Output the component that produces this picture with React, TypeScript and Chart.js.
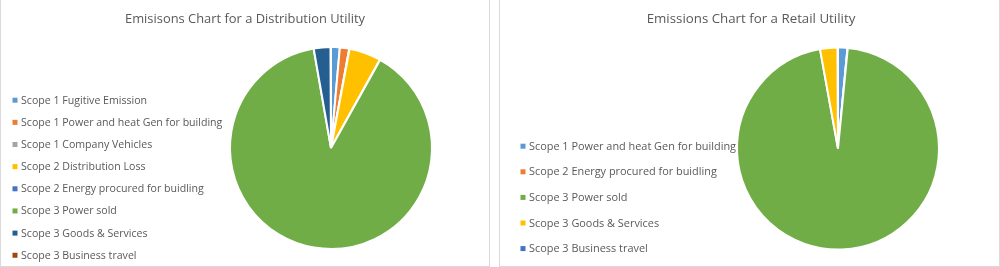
import React, { useEffect, useRef } from "react";
import { Chart, registerables } from "chart.js";

Chart.register(...registerables);

// ---------- Data ----------
const distTitle = "Emisisons Chart for a Distribution Utility";
const distLabels = [
  "Scope 1 Fugitive Emission",
  "Scope 1 Power and heat Gen for building",
  "Scope 1 Company Vehicles",
  "Scope 2 Distribution Loss",
  "Scope 2 Energy procured for buidling",
  "Scope 3 Power sold",
  "Scope 3 Goods & Services",
  "Scope 3 Business travel",
];
const distValues = [1.4, 1.5, 0.05, 5.1, 0.05, 89.2, 2.7, 0.05];
const distColors = [
  "#5B9BD5",
  "#ED7D31",
  "#A5A5A5",
  "#FFC000",
  "#4472C4",
  "#70AD47",
  "#255E91",
  "#9E480E",
];

const retailTitle = "Emissions Chart for a Retail Utility";
const retailLabels = [
  "Scope 1 Power and heat Gen for building",
  "Scope 2 Energy procured for buidling",
  "Scope 3 Power sold",
  "Scope 3 Goods & Services",
  "Scope 3 Business travel",
];
const retailValues = [1.5, 0.05, 95.6, 2.8, 0.05];
const retailColors = ["#5B9BD5", "#ED7D31", "#70AD47", "#FFC000", "#4472C4"];

// ---------- Layout / style ----------
const TEXT_COLOR = "#595959";
const FONT_FAMILY = "'Open Sans', 'Noto Sans', sans-serif";

type PanelLayout = {
  left: number;
  width: number;
  height: number;
  padding: { left: number; right: number; top: number; bottom: number };
  titleX: number;
  titleY: number;
  titleSize: number;
  legendX: number;
  legendTextX: number;
  legendY0: number;
  legendStep: number;
  legendSize: number;
  markerSize: number;
};

const distLayout: PanelLayout = {
  left: 0,
  width: 490,
  height: 267,
  padding: { left: 228, right: 56, top: 45.5, bottom: 15.5 },
  titleX: 244,
  titleY: 19,
  titleSize: 12.9,
  legendX: 11.5,
  legendTextX: 20,
  legendY0: 100.2,
  legendStep: 22.15,
  legendSize: 10.6,
  markerSize: 5,
};

const retailLayout: PanelLayout = {
  left: 499,
  width: 501,
  height: 267,
  padding: { left: 236, right: 59, top: 46, bottom: 15 },
  titleX: 251,
  titleY: 19,
  titleSize: 13.3,
  legendX: 20.5,
  legendTextX: 29,
  legendY0: 146.2,
  legendStep: 25.6,
  legendSize: 10.9,
  markerSize: 5,
};

const textPlugin = {
  id: "panelText",
  afterDraw(chart: any, _args: any, opts: any) {
    const ctx: CanvasRenderingContext2D = chart.ctx;
    const L: PanelLayout = opts.layout;
    ctx.save();
    // title
    ctx.fillStyle = TEXT_COLOR;
    ctx.font = `${L.titleSize}px ${FONT_FAMILY}`;
    ctx.textAlign = "center";
    ctx.textBaseline = "middle";
    ctx.fillText(opts.title, L.titleX, L.titleY);
    // legend
    const labels: string[] = chart.data.labels;
    const colors: string[] = chart.data.datasets[0].backgroundColor;
    ctx.font = `${L.legendSize}px ${FONT_FAMILY}`;
    ctx.textAlign = "left";
    labels.forEach((lab, i) => {
      const y = L.legendY0 + i * L.legendStep;
      ctx.fillStyle = colors[i];
      ctx.fillRect(L.legendX, y - L.markerSize / 2, L.markerSize, L.markerSize);
      ctx.fillStyle = TEXT_COLOR;
      ctx.fillText(lab, L.legendTextX, y + 0.5);
    });
    ctx.restore();
  },
};

function PiePanel(props: {
  title: string;
  labels: string[];
  values: number[];
  colors: string[];
  layout: PanelLayout;
}) {
  const ref = useRef<HTMLCanvasElement | null>(null);
  const { title, labels, values, colors, layout } = props;

  useEffect(() => {
    if (!ref.current) return;
    const chart = new Chart(ref.current, {
      type: "pie",
      data: {
        labels,
        datasets: [
          {
            data: values,
            backgroundColor: colors,
            borderColor: "#ffffff",
            borderWidth: 2,
          },
        ],
      },
      options: {
        animation: false,
        responsive: false,
        maintainAspectRatio: false,
        layout: { padding: layout.padding },
        plugins: {
          legend: { display: false },
          title: { display: false },
          tooltip: { enabled: false },
          panelText: { title, layout },
        } as any,
      },
      plugins: [textPlugin as any],
    });
    return () => chart.destroy();
  }, []);

  return (
    <div
      style={{
        position: "absolute",
        left: layout.left,
        top: 0,
        width: layout.width,
        height: layout.height,
        boxSizing: "border-box",
        borderLeft: "1px solid #d9d9d9",
        borderRight: "1px solid #d9d9d9",
        borderBottom: "1px solid #d9d9d9",
        background: "#ffffff",
      }}
    >
      <canvas
        ref={ref}
        width={layout.width - 2}
        height={layout.height - 1}
        style={{ display: "block", width: layout.width - 2, height: layout.height - 1 }}
      />
    </div>
  );
}

export default function App() {
  return (
    <div
      style={{
        position: "absolute",
        left: 0,
        top: 0,
        width: 1000,
        height: 267,
        background: "#ffffff",
        overflow: "hidden",
      }}
    >
      <PiePanel
        title={distTitle}
        labels={distLabels}
        values={distValues}
        colors={distColors}
        layout={distLayout}
      />
      <PiePanel
        title={retailTitle}
        labels={retailLabels}
        values={retailValues}
        colors={retailColors}
        layout={retailLayout}
      />
    </div>
  );
}
